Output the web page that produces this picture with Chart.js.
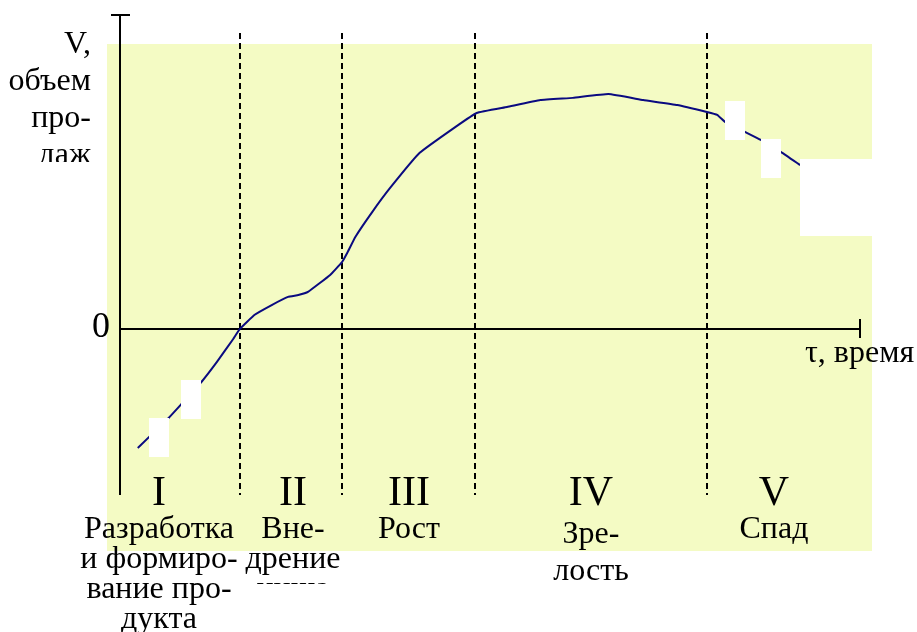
<!DOCTYPE html>
<html>
<head>
<meta charset="utf-8">
<script src="https://cdn.jsdelivr.net/npm/chart.js@4.4.1/dist/chart.umd.min.js"></script>
<style>
  html, body { margin: 0; padding: 0; background: #ffffff; }
  #wrap { width: 917px; height: 632px; }
</style>
</head>
<body>
<div id="wrap"><canvas id="c" width="917" height="632"></canvas></div>
<script>
// ---- data (time in % of the life cycle, sales volume in relative units) ----
const timeValues = [2.4, 6.6, 8.2, 11.0, 13.1, 15.3, 16.2, 18.2, 20.5, 22.7, 24.1, 25.4,
  28.4, 30.0, 30.7, 31.8, 34.1, 36.5, 40.5, 45.3, 48.2, 52.3, 56.8, 61.2, 66.0,
  70.7, 75.3, 79.3, 80.7, 81.8, 84.5, 86.6, 89.3, 91.9];
const salesValues = [-37.9, -28.3, -24.2, -16.9, -10.5, -3.2, 0, 4.5, 7.6, 10.2, 10.8, 11.8,
  17.2, 21.3, 24.2, 29.3, 37.3, 44.9, 56.1, 64.3, 68.8, 70.7, 72.9, 73.6, 74.8,
  72.9, 71.3, 69.1, 68.2, 65.9, 62.7, 60.2, 56.4, 52.2];
const phaseBounds = [16.2, 30.0, 48.0, 79.3];
const phaseNumerals = ['I', 'II', 'III', 'IV', 'V'];
const phaseNames = [
  ['Разработка', 'и формиро-', 'вание про-', 'дукта'],
  ['Вне-', 'дрение', 'ниша'],
  ['Рост'],
  ['Зре-', 'лость'],
  ['Спад']
];
const yAxisLabel = ['V,', 'объем', 'про-', 'даж'];
const xAxisLabel = 'τ, время';
const zeroLabel = '0';
const xMin = 0, xMax = 100, yMin = -52.9, yMax = 100;

const SERIF = '"Liberation Serif", "Times New Roman", serif';

const decor = {
  id: 'decor',
  beforeDatasetsDraw(chart) {
    const ctx = chart.ctx;
    const xs = chart.scales.x, ys = chart.scales.y;
    ctx.save();
    // background panel
    ctx.fillStyle = '#F4FBC4';
    ctx.fillRect(107, 44, 765, 507);
    // dashed phase boundaries
    ctx.strokeStyle = '#000000';
    ctx.lineWidth = 2;
    ctx.setLineDash([6, 4]);
    phaseBounds.forEach(b => {
      const px = Math.round(xs.getPixelForValue(b));
      ctx.beginPath();
      ctx.moveTo(px, 33);
      ctx.lineTo(px, ys.getPixelForValue(yMin));
      ctx.stroke();
    });
    ctx.setLineDash([]);
    // axes
    ctx.lineWidth = 2;
    const x0 = xs.getPixelForValue(0);
    const y0 = ys.getPixelForValue(0);
    const yTop = ys.getPixelForValue(yMax);
    const yBot = ys.getPixelForValue(yMin);
    const xEnd = xs.getPixelForValue(xMax);
    ctx.beginPath();
    ctx.moveTo(x0, yTop); ctx.lineTo(x0, yBot);
    ctx.moveTo(x0 - 9, yTop); ctx.lineTo(x0 + 10, yTop);
    ctx.moveTo(x0, y0); ctx.lineTo(xEnd, y0);
    ctx.moveTo(xEnd, y0 - 10); ctx.lineTo(xEnd, y0 + 9);
    ctx.stroke();
    ctx.restore();
  },
  afterDatasetsDraw(chart) {
    const ctx = chart.ctx;
    ctx.save();
    // white masks
    ctx.fillStyle = '#ffffff';
    ctx.fillRect(149, 418, 20, 39);
    ctx.fillRect(181, 380, 20, 39);
    ctx.fillRect(725, 101, 20, 39);
    ctx.fillRect(761, 139, 20, 39);
    ctx.fillRect(800, 159, 72, 77);
    ctx.fillStyle = '#000000';
    ctx.textBaseline = 'alphabetic';
    // y axis label (clipped box)
    ctx.save();
    ctx.beginPath();
    ctx.rect(0, 0, 105, 162);
    ctx.clip();
    ctx.font = '32px ' + SERIF;
    ctx.textAlign = 'right';
    yAxisLabel.forEach((t, i) => ctx.fillText(t, 91, 53 + i * 37));
    ctx.restore();
    // zero label
    ctx.font = '36px ' + SERIF;
    ctx.textAlign = 'right';
    ctx.fillText(zeroLabel, 110, 337);
    // x axis label
    ctx.font = '32px ' + SERIF;
    ctx.textAlign = 'left';
    ctx.fillText(xAxisLabel, 805, 362);
    // phase labels
    const centers = [159, 293, 409, 591, 774];
    const nameTop = [538, 538, 538, 543, 538];
    const lineGap = [30, 30, 30, 37, 30];
    const clipBottom = [632, 584, 632, 632, 632];
    ctx.textAlign = 'center';
    phaseNumerals.forEach((n, i) => {
      ctx.font = '42px ' + SERIF;
      ctx.fillText(n, centers[i], 505);
      ctx.save();
      ctx.beginPath();
      ctx.rect(centers[i] - 85, 506, 170, clipBottom[i] - 506);
      ctx.clip();
      ctx.font = '32px ' + SERIF;
      phaseNames[i].forEach((t, j) => ctx.fillText(t, centers[i], nameTop[i] + j * lineGap[i]));
      ctx.restore();
    });
    ctx.restore();
  }
};

new Chart(document.getElementById('c'), {
  type: 'line',
  data: {
    datasets: [{
      data: timeValues.map((t, i) => ({ x: t, y: salesValues[i] })),
      borderColor: '#0A0A80',
      borderWidth: 2,
      pointRadius: 0,
      tension: 0.1,
      fill: false
    }]
  },
  options: {
    responsive: false,
    animation: false,
    devicePixelRatio: 1,
    layout: { padding: { left: 120, right: 57, top: 15, bottom: 137 } },
    plugins: { legend: { display: false }, tooltip: { enabled: false } },
    scales: {
      x: { type: 'linear', min: xMin, max: xMax, display: false },
      y: { type: 'linear', min: yMin, max: yMax, display: false }
    }
  },
  plugins: [decor]
});
</script>
</body>
</html>
